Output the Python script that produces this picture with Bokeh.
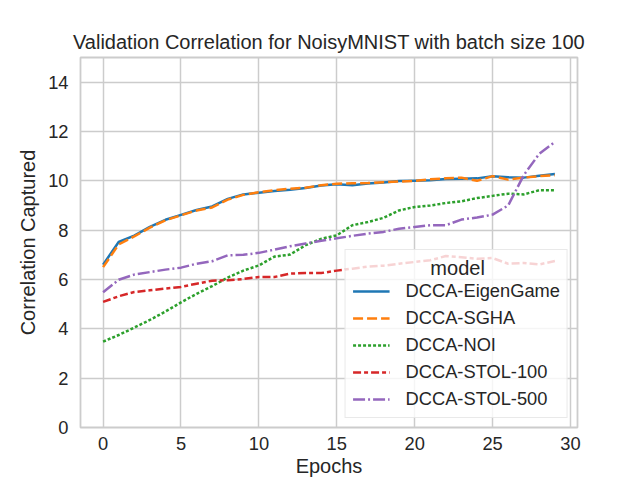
from bokeh.plotting import figure
from bokeh.models import Legend, LegendItem, FixedTicker, Range1d
from bokeh.embed import file_html
from bokeh.resources import INLINE

epochs = list(range(30))
eigengame = [6.6, 7.52, 7.78, 8.13, 8.42, 8.62, 8.82, 8.96, 9.27, 9.45, 9.52, 9.59, 9.64, 9.71, 9.81,
             9.86, 9.82, 9.89, 9.93, 9.99, 10.0, 10.02, 10.07, 10.08, 10.1, 10.19, 10.15, 10.13, 10.21, 10.28]
sgha = [6.5, 7.42, 7.75, 8.1, 8.4, 8.6, 8.8, 8.92, 9.24, 9.43, 9.54, 9.62, 9.68, 9.72, 9.82,
        9.88, 9.9, 9.91, 9.94, 9.97, 10.0, 10.06, 10.1, 10.13, 10.0, 10.19, 10.05, 10.13, 10.19, 10.23]
noi = [3.48, 3.75, 4.05, 4.36, 4.7, 5.07, 5.42, 5.73, 6.08, 6.36, 6.57, 6.93, 7.01, 7.39, 7.65,
       7.79, 8.2, 8.33, 8.5, 8.8, 8.94, 9.0, 9.1, 9.17, 9.3, 9.39, 9.48, 9.45, 9.62, 9.62]
stol100 = [5.09, 5.32, 5.49, 5.56, 5.63, 5.7, 5.83, 5.95, 5.97, 6.02, 6.1, 6.1, 6.24, 6.26, 6.26,
           6.36, 6.44, 6.52, 6.56, 6.64, 6.71, 6.78, 6.95, 6.9, 6.84, 6.87, 6.64, 6.67, 6.61, 6.75]
stol500 = [5.48, 5.99, 6.2, 6.3, 6.4, 6.48, 6.64, 6.74, 6.98, 7.0, 7.08, 7.21, 7.35, 7.46, 7.57,
           7.67, 7.77, 7.86, 7.93, 8.06, 8.13, 8.2, 8.2, 8.43, 8.51, 8.63, 9.0, 10.23, 11.1, 11.58]

models = ["DCCA-EigenGame", "DCCA-SGHA", "DCCA-NOI", "DCCA-STOL-100", "DCCA-STOL-500"]
series = [eigengame, sgha, noi, stol100, stol500]
colors = ["#1f77b4", "#ff7f0e", "#2ca02c", "#d62728", "#9467bd"]
dashes = ["solid", "10 4", "3 2", "8 3 4 3", "12 3 2 3"]
x_ticks = [0, 5, 10, 15, 20, 25, 30]
y_ticks = [0, 2, 4, 6, 8, 10, 12, 14]
legend_title = "model"

FONT = "Liberation Sans"
TXT = "#262626"
GRID = "#cccccc"
TICK_PX = "18.3px"
LABEL_PX = "20px"

p = figure(width=640, height=480, output_backend="svg", toolbar_location=None,
           x_range=Range1d(-1.45, 30.45), y_range=Range1d(0, 15),
           min_border_left=80, min_border_right=63, min_border_top=57, min_border_bottom=53,
           title="Validation Correlation for NoisyMNIST with batch size 100")
p.background_fill_color = "white"
p.border_fill_color = "white"
p.outline_line_color = GRID
p.outline_line_width = 1.8

p.title.text_font = FONT
p.title.text_font_size = LABEL_PX
p.title.text_font_style = "normal"
p.title.text_color = TXT
p.title.align = "center"
p.title.standoff = 9

for ax in (p.xaxis[0], p.yaxis[0]):
    ax.axis_line_color = None
    ax.major_tick_line_color = None
    ax.minor_tick_line_color = None
    ax.major_tick_out = 0
    ax.major_tick_in = 0
    ax.minor_tick_out = 0
    ax.major_label_text_font = FONT
    ax.major_label_text_font_size = TICK_PX
    ax.major_label_text_color = TXT
    ax.axis_label_text_font = FONT
    ax.axis_label_text_font_size = LABEL_PX
    ax.axis_label_text_font_style = "normal"
    ax.axis_label_text_color = TXT

p.xaxis.ticker = FixedTicker(ticks=x_ticks)
p.yaxis.ticker = FixedTicker(ticks=y_ticks)
p.xaxis.axis_label = "Epochs"
p.yaxis.axis_label = "Correlation Captured"
p.xaxis.major_label_standoff = 9
p.yaxis.major_label_standoff = 12
p.xaxis.axis_label_standoff = 2
p.yaxis.axis_label_standoff = 6

p.xgrid.ticker = FixedTicker(ticks=x_ticks)
p.ygrid.ticker = FixedTicker(ticks=y_ticks)
p.grid.grid_line_color = GRID
p.grid.grid_line_width = 1.5

items = []
for name, ys, c, d in zip(models, series, colors, dashes):
    r = p.line(epochs, ys, line_color=c, line_width=2.5, line_dash=d, line_join="round")
    items.append(LegendItem(label=name, renderers=[r]))

# non-breaking spaces centre the title over the entries, as matplotlib does
legend = Legend(items=items, location="bottom_right", title="\u00a0" * 14 + legend_title)
legend.title_text_font = FONT
legend.title_text_font_size = LABEL_PX
legend.title_text_font_style = "normal"
legend.title_text_color = TXT
legend.title_location = "above"
legend.title_standoff = 0
legend.label_text_font = FONT
legend.label_text_font_size = TICK_PX
legend.label_text_color = TXT
legend.glyph_width = 37
legend.glyph_height = 18
legend.label_height = 18
legend.label_standoff = 16
legend.spacing = 5
legend.padding = 7
legend.margin = 9
legend.border_line_color = "#d4d4d4"
legend.border_line_width = 1
legend.background_fill_color = "white"
legend.background_fill_alpha = 0.8
p.add_layout(legend, "center")

open("out.html", "w").write(file_html(p, INLINE))
